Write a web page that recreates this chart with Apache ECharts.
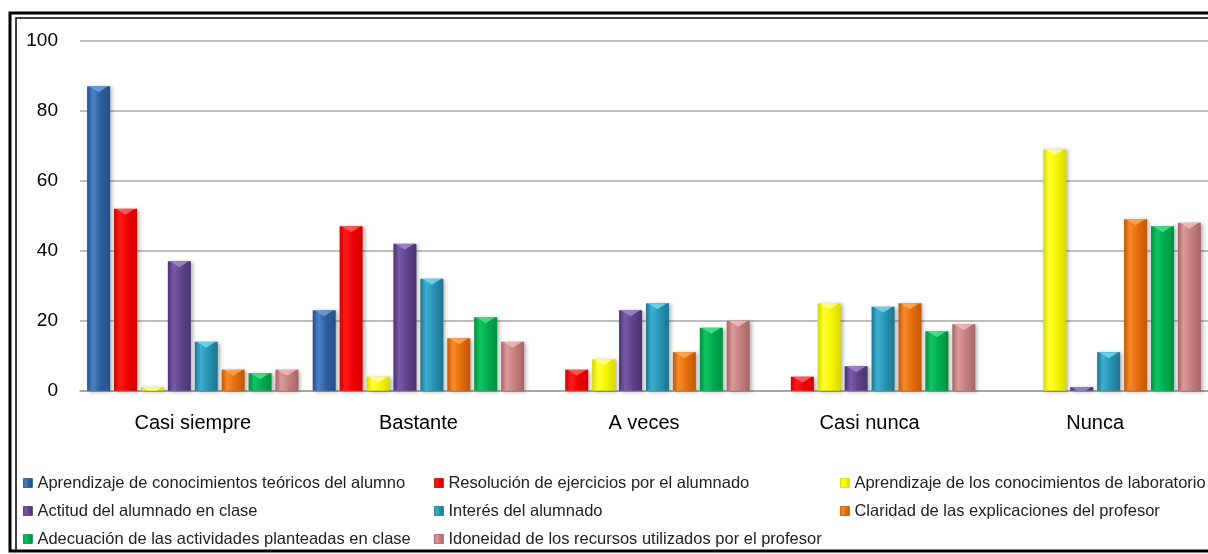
<!DOCTYPE html>
<html>
<head>
<meta charset="utf-8">
<script src="https://cdn.jsdelivr.net/npm/echarts@6/dist/echarts.min.js"></script>
<style>
html,body{margin:0;padding:0;background:#fff;}
#chart{width:1208px;height:554px;}
</style>
</head>
<body>
<div id="chart"></div>
<script>
const categories = ['Casi siempre', 'Bastante', 'A veces', 'Casi nunca', 'Nunca'];
const seriesNames = [
  'Aprendizaje de conocimientos teóricos del alumno',
  'Resolución de ejercicios por el alumnado',
  'Aprendizaje de los conocimientos de laboratorio',
  'Actitud del alumnado en clase',
  'Interés del alumnado',
  'Claridad de las explicaciones del profesor',
  'Adecuación de las actividades planteadas en clase',
  'Idoneidad de los recursos utilizados por el profesor'
];
const teoricos    = [87, 23, 0, 0, 0];
const resolucion  = [52, 47, 6, 4, 0];
const laboratorio = [1, 4, 9, 25, 69];
const actitud     = [37, 42, 23, 7, 1];
const interes     = [14, 32, 25, 24, 11];
const claridad    = [6, 15, 11, 25, 49];
const adecuacion  = [5, 21, 18, 17, 47];
const idoneidad   = [6, 14, 20, 19, 48];
const yTicks = [0, 20, 40, 60, 80, 100];

const seriesData = [teoricos, resolucion, laboratorio, actitud, interes, claridad, adecuacion, idoneidad];
const palette = [
  ['#24508a', '#4a82c6', '#2c5d9c', '#6fa0dc'],
  ['#d00000', '#ff1a1a', '#ee0000', '#ff6464'],
  ['#d8d800', '#ffff30', '#f5f500', '#ffff90'],
  ['#4a3470', '#7a5aa8', '#5d4388', '#a486d2'],
  ['#1d7490', '#3cb0d2', '#2891b2', '#70d8f2'],
  ['#c05806', '#f88a2a', '#e46c0a', '#ffaa55'],
  ['#008f3e', '#10c462', '#00ab4e', '#4ce48a'],
  ['#a86464', '#dc9a9a', '#c47e7e', '#f4baba']
];

function grad(c) {
  return new echarts.graphic.LinearGradient(0, 0, 1, 0, [
    {offset: 0, color: c[0]},
    {offset: 0.25, color: c[1]},
    {offset: 0.6, color: c[2]},
    {offset: 1, color: c[0]}
  ]);
}

const FONT = '"Liberation Sans Narrow", "Arial Narrow", "Liberation Sans", Arial, sans-serif';

const barSeries = seriesNames.map((name, i) => ({
  name: name,
  type: 'bar',
  data: seriesData[i],
  barWidth: 23,
  barGap: '17%',
  itemStyle: {
    color: grad(palette[i]),
    borderWidth: 0,
    shadowColor: 'rgba(0,0,0,0.3)',
    shadowBlur: 4,
    shadowOffsetX: 2,
    shadowOffsetY: 1
  },
  emphasis: {disabled: true}
}));

const bevelSeries = seriesNames.map((name, i) => ({
  name: name + ' (bisel)',
  type: 'pictorialBar',
  data: seriesData[i],
  barWidth: 23,
  barGap: '17%',
  symbol: 'triangle',
  symbolRotate: 180,
  symbolPosition: 'end',
  symbolSize: [19, 6],
  symbolClip: true,
  symbolRepeat: false,
  z: 3,
  silent: true,
  itemStyle: {color: palette[i][3], opacity: 0.85},
  emphasis: {disabled: true}
}));

function legendFor(idx, left) {
  return {
    orient: 'vertical',
    left: left,
    top: 474,
    padding: 0,
    itemWidth: 9,
    itemHeight: 9,
    itemGap: 10,
    icon: 'rect',
    selectedMode: false,
    data: idx.map(i => ({name: seriesNames[i], itemStyle: {color: grad(palette[i]), borderColor: palette[i][0], borderWidth: 0.8}})),
    textStyle: {fontFamily: FONT, fontSize: 16.5, color: '#222', lineHeight: 18}
  };
}

const chart = echarts.init(document.getElementById('chart'), null, {renderer: 'canvas'});
chart.setOption({
  animation: false,
  backgroundColor: '#fff',
  grid: {left: 80, top: 40.7, width: 1130, height: 350},
  xAxis: {
    type: 'category',
    data: categories,
    axisTick: {show: false},
    axisLine: {lineStyle: {color: '#a0a0a0', width: 1.5}},
    axisLabel: {fontFamily: FONT, fontSize: 20, color: '#000', margin: 23}
  },
  yAxis: {
    type: 'value',
    min: yTicks[0],
    max: yTicks[yTicks.length - 1],
    interval: 20,
    axisLine: {show: false},
    axisTick: {show: false},
    splitLine: {lineStyle: {color: '#a8a8a8', width: 1.5}},
    axisLabel: {fontFamily: FONT, fontSize: 19, color: '#000', margin: 22}
  },
  legend: [legendFor([0, 3, 6], 23), legendFor([1, 4, 7], 434), legendFor([2, 5], 840)],
  graphic: [
    {type: 'rect', shape: {x: 10, y: 13, width: 1220, height: 538}, style: {fill: null, stroke: '#000', lineWidth: 3}, silent: true},
    {type: 'rect', shape: {x: 16, y: 18, width: 1220, height: 533}, style: {fill: null, stroke: '#000', lineWidth: 1.5}, silent: true}
  ],
  series: barSeries.concat(bevelSeries)
});
</script>
</body>
</html>
